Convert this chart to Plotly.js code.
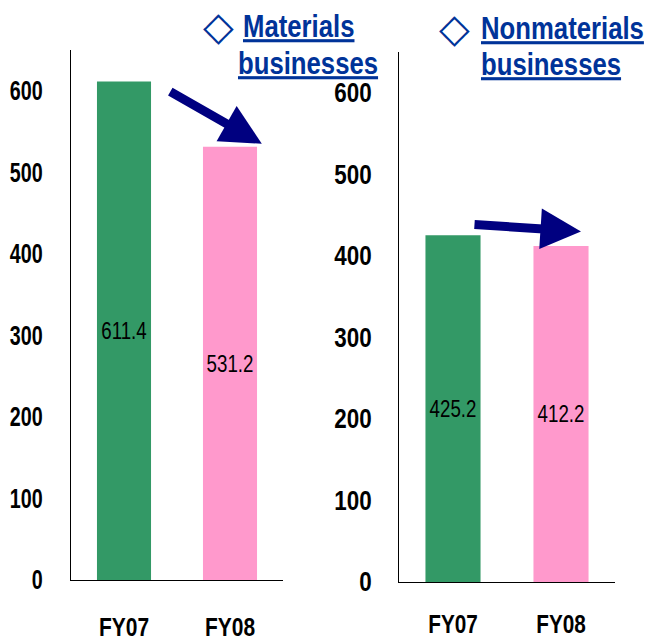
<!DOCTYPE html>
<html>
<head>
<meta charset="utf-8">
<script src="https://cdn.plot.ly/plotly-3.0.1.min.js"></script>
<style>html,body{margin:0;padding:0;background:#fff;}#chart{width:648px;height:641px;}</style>
</head>
<body>
<div id="chart"></div>
<script>
const categories = ["FY07", "FY08"];
const materialsValues = [611.4, 531.2];
const nonmaterialsValues = [425.2, 412.2];
const barColors = ["#339966", "#FF99CC"];
const yTicks = [0, 100, 200, 300, 400, 500, 600];
const materialsTitle = ["Materials", "businesses"];
const nonmaterialsTitle = ["Nonmaterials", "businesses"];
const bullet = "◇";

const FONT = '"Liberation Sans", Arial, sans-serif';

function fmt(v){ return v.toFixed(1); }

function barTrace(vals, xa, ya){
  return {
    type: "bar", x: categories, y: vals, xaxis: xa, yaxis: ya,
    marker: {color: barColors}, width: 0.51,
    text: vals.map(fmt), textposition: "inside", insidetextanchor: "middle",
    constraintext: "none", textangle: 0,
    textfont: {family: FONT, size: 24, color: "#000"}, hoverinfo: "none"
  };
}

const traces = [
  barTrace(materialsValues, "x", "y"),
  barTrace(nonmaterialsValues, "x2", "y2")
];

const yaxisBase = {
  range: [0, 650], tickvals: yTicks, showgrid: false, zeroline: false,
  showline: true, linecolor: "#000", linewidth: 1, ticks: "",
  tickfont: {family: FONT, size: 27, color: "#000", weight: "bold"},
  fixedrange: true
};
const xaxisBase = {
  range: [-0.5, 1.5], showgrid: false, zeroline: false,
  showline: true, linecolor: "#000", linewidth: 1, ticks: "",
  tickfont: {family: FONT, size: 25, color: "#000", weight: "bold"},
  fixedrange: true
};

const titleFont = {family: FONT, size: 31, color: "#003399", weight: "bold"};
const bulletFont = {family: '"DejaVu Sans", sans-serif', size: 40, color: "#003399", weight: "bold"};

function titleLine(txt, xpx, ypx){
  return {xref: "paper", yref: "paper", x: xpx/648, y: 1 - ypx/641, xanchor: "left", yanchor: "middle",
          align: "left", text: "<u>" + txt + "</u>", showarrow: false, font: titleFont};
}

const layout = {
  width: 648, height: 641,
  margin: {l: 0, r: 0, t: 0, b: 0},
  paper_bgcolor: "#fff", plot_bgcolor: "#fff",
  showlegend: false,
  xaxis: Object.assign({}, xaxisBase, {domain: [71/648, 283/648], anchor: "y", ticklabelstandoff: 25}),
  yaxis: Object.assign({}, yaxisBase, {domain: [1 - 580/641, 1 - 50/641], anchor: "x", ticklabelstandoff: 22}),
  xaxis2: Object.assign({}, xaxisBase, {domain: [399/648, 615/648], anchor: "y2", ticklabelstandoff: 20}),
  yaxis2: Object.assign({}, yaxisBase, {domain: [1 - 582/641, 1 - 52/641], anchor: "x2", ticklabelstandoff: 21}),
  annotations: [
    {xref: "paper", yref: "paper", x: 218/648, y: 1 - 26/641, xanchor: "center", yanchor: "middle",
     text: bullet, showarrow: false, font: bulletFont},
    titleLine(materialsTitle[0], 241, 27),
    titleLine(materialsTitle[1], 236, 63),
    {xref: "paper", yref: "paper", x: 454/648, y: 1 - 28/641, xanchor: "center", yanchor: "middle",
     text: bullet, showarrow: false, font: bulletFont},
    titleLine(nonmaterialsTitle[0], 479, 28),
    titleLine(nonmaterialsTitle[1], 479, 65),
    {xref: "x", yref: "y", x: 1.30, y: 535, ax: -93, ay: -53, axref: "pixel", ayref: "pixel",
     showarrow: true, arrowhead: 2, arrowsize: 0.9, arrowwidth: 9, arrowcolor: "#000080", text: ""},
    {xref: "x2", yref: "y2", x: 1.185, y: 430, ax: -108, ay: -7, axref: "pixel", ayref: "pixel",
     showarrow: true, arrowhead: 2, arrowsize: 0.9, arrowwidth: 9, arrowcolor: "#000080", text: ""}
  ]
};

// horizontal squeeze factors imitating the narrow typeface of the original
function squeezeFor(t){
  if (t.closest(".ytick")) return 0.73;
  if (t.closest(".xtick")) return 0.84;
  if (t.classList.contains("bartext")) return 0.78;
  return 0.83;
}

Plotly.newPlot("chart", traces, layout, {staticPlot: true, displayModeBar: false}).then(function(gd){
  gd.querySelectorAll("svg text").forEach(function(t){
    if (!t.textContent || t.textContent.trim() === bullet) return;
    const s = squeezeFor(t);
    const x = parseFloat(t.getAttribute("x")) || 0;
    const prev = t.getAttribute("transform") || "";
    t.setAttribute("transform", prev + " translate(" + x + ",0) scale(" + s + ",1) translate(" + (-x) + ",0)");
  });
});
</script>
</body>
</html>
